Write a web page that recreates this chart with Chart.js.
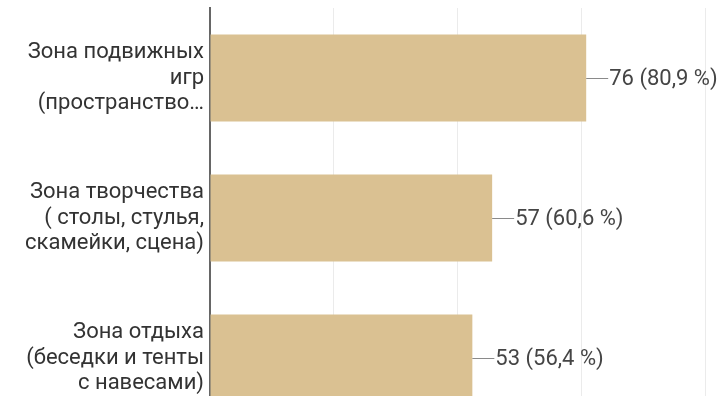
<!DOCTYPE html>
<html>
<head>
    <meta charset="utf-8">
    <title>Зоны</title>
    <style>
        html, body {
            margin: 0;
            padding: 0;
            background: #ffffff;
            overflow: hidden;
        }

        .chart-box {
            position: relative;
            width: 723px;
            height: 440px;
        }
    </style>
</head>
<body>
    <div class="chart-box">
        <canvas id="zonasChart"></canvas>
    </div>

    <script src="https://cdn.jsdelivr.net/npm/chart.js"></script>
    <script>
        // категории (многострочные подписи)
        var zonas = [
            ['Зона подвижных', 'игр', '(пространство…'],
            ['Зона творчества', '( столы, стулья,', 'скамейки, сцена)'],
            ['Зона отдыха', '(беседки и тенты', 'с навесами)']
        ];
        var respostas = [76, 57, 53];
        var percentuais = ['80,9', '60,6', '56,4'];
        var escalaX = [0, 25, 50, 75, 100];

        // подписи значений с короткой линией-выноской
        var rotulos = {
            id: 'rotulos',
            afterDatasetsDraw: function (chart) {
                var ctx = chart.ctx;
                var meta = chart.getDatasetMeta(0);
                ctx.save();
                meta.data.forEach(function (bar, i) {
                    var x = bar.x;
                    var y = bar.y;
                    ctx.strokeStyle = '#8a8a8a';
                    ctx.lineWidth = 1;
                    ctx.beginPath();
                    ctx.moveTo(x, y + 0.5);
                    ctx.lineTo(x + 22, y + 0.5);
                    ctx.stroke();
                    ctx.fillStyle = '#454545';
                    ctx.font = '22px Roboto';
                    ctx.textAlign = 'left';
                    ctx.textBaseline = 'middle';
                    ctx.fillText(respostas[i] + ' (' + percentuais[i] + ' %)', x + 23, y + 1);
                });
                ctx.restore();
            }
        };

        var ctx = document.getElementById('zonasChart').getContext('2d');
        new Chart(ctx, {
            type: 'bar',
            data: {
                labels: zonas,
                datasets: [{
                    data: respostas,
                    backgroundColor: '#dac192',
                    borderWidth: 0,
                    barPercentage: 0.62,
                    categoryPercentage: 1
                }]
            },
            plugins: [rotulos],
            options: {
                indexAxis: 'y',
                responsive: true,
                maintainAspectRatio: false,
                animation: false,
                layout: {
                    padding: { top: 8, right: 18, bottom: 12, left: 0 }
                },
                plugins: {
                    legend: { display: false },
                    tooltip: { enabled: false }
                },
                scales: {
                    x: {
                        min: escalaX[0],
                        max: escalaX[escalaX.length - 1],
                        afterBuildTicks: function (scale) {
                            scale.ticks = escalaX.map(function (v) { return { value: v }; });
                        },
                        ticks: { display: false },
                        grid: {
                            color: '#ebebeb',
                            lineWidth: 1,
                            drawTicks: false
                        },
                        border: { display: false }
                    },
                    y: {
                        afterFit: function (scale) {
                            scale.width = 210;
                            scale.paddingTop = 0;
                            scale.paddingBottom = 0;
                        },
                        ticks: {
                            color: '#333333',
                            padding: 6,
                            font: { family: 'Roboto', size: 22, lineHeight: 1.18 }
                        },
                        grid: { display: false, drawTicks: false },
                        border: { display: true, color: '#666666', width: 2 }
                    }
                }
            }
        });
    </script>
</body>
</html>
